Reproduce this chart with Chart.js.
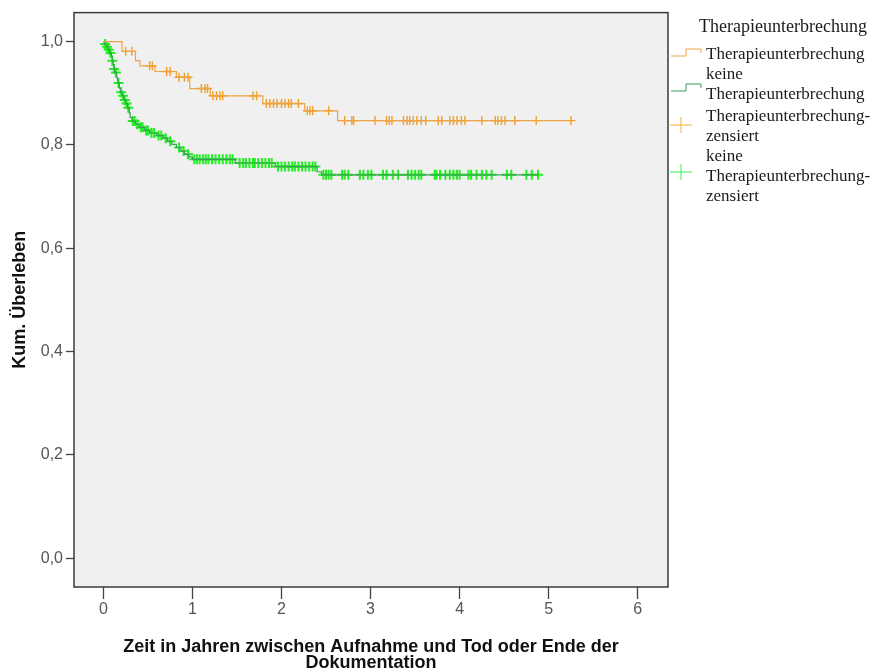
<!DOCTYPE html>
<html>
<head>
<meta charset="utf-8">
<script src="https://cdn.jsdelivr.net/npm/chart.js@4/dist/chart.umd.min.js"></script>
<style>
  html, body { margin: 0; padding: 0; background: #ffffff; }
  canvas { display: block; }
</style>
</head>
<body>
<canvas id="km" width="884" height="671"></canvas>
<script>
// Kaplan-Meier estimate, group "Therapieunterbrechung":
// time of each event (years) and the survival level after it
const breakTimes = [0, 0.21, 0.36, 0.41, 0.58, 0.82, 0.97, 1.20, 1.79, 2.26, 2.63, 5.25];
const breakSurv  = [1.0, 0.981, 0.963, 0.953, 0.942, 0.931, 0.909, 0.895, 0.880, 0.866, 0.847, 0.847];
// censored follow-up times (years)
const breakCensored = [0.25, 0.32, 0.52, 0.55, 0.71, 0.75, 0.85, 0.91, 0.95, 1.10, 1.14, 1.17,
  1.23, 1.27, 1.31, 1.34, 1.68, 1.72, 1.83, 1.87, 1.91, 1.95, 2.00, 2.04, 2.08, 2.11, 2.19,
  2.29, 2.32, 2.35, 2.53, 2.71, 2.79, 2.81, 3.05, 3.18, 3.21, 3.24, 3.37, 3.41, 3.44, 3.48,
  3.52, 3.57, 3.62, 3.76, 3.80, 3.89, 3.93, 3.97, 4.02, 4.06, 4.25, 4.40, 4.43, 4.47, 4.51,
  4.62, 4.86, 5.25];

// group "keine Therapieunterbrechung"
const noBreakTimes = [0, 0.01, 0.03, 0.05, 0.07, 0.09, 0.10, 0.11, 0.12, 0.13, 0.15, 0.16,
  0.18, 0.19, 0.21, 0.23, 0.25, 0.27, 0.29, 0.30, 0.32, 0.36, 0.40, 0.46, 0.52, 0.60, 0.67,
  0.72, 0.77, 0.82, 0.87, 0.91, 0.96, 1.00, 1.48, 1.93, 2.40, 2.45, 4.88];
const noBreakSurv  = [1.0, 0.995, 0.990, 0.984, 0.978, 0.972, 0.963, 0.955, 0.947, 0.940, 0.930, 0.920,
  0.910, 0.902, 0.895, 0.887, 0.880, 0.872, 0.862, 0.853, 0.846, 0.840, 0.834, 0.828, 0.823, 0.818, 0.813,
  0.807, 0.801, 0.795, 0.788, 0.782, 0.777, 0.772, 0.765, 0.758, 0.748, 0.742, 0.742];
const noBreakCensored = [0.02, 0.04, 0.06, 0.08, 0.10, 0.12, 0.14, 0.17, 0.20, 0.22, 0.24, 0.26,
  0.28, 0.33, 0.35, 0.38, 0.42, 0.44, 0.48, 0.50, 0.54, 0.57, 0.62, 0.65, 0.70, 0.75, 0.85, 0.90,
  0.95, 1.02, 1.05, 1.08, 1.12, 1.15, 1.18, 1.22, 1.26, 1.30, 1.34, 1.38, 1.42, 1.45, 1.53, 1.57,
  1.60, 1.64, 1.68, 1.70, 1.74, 1.78, 1.82, 1.86, 1.89, 1.96, 2.00, 2.04, 2.08, 2.12, 2.15, 2.19,
  2.23, 2.27, 2.31, 2.35, 2.38, 2.47, 2.50, 2.53, 2.56, 2.68, 2.71, 2.75, 2.88, 2.92, 2.97, 3.01,
  3.14, 3.18, 3.25, 3.31, 3.42, 3.46, 3.50, 3.54, 3.57, 3.72, 3.74, 3.78, 3.84, 3.89, 3.93, 3.97,
  4.00, 4.10, 4.13, 4.19, 4.25, 4.30, 4.36, 4.53, 4.58, 4.75, 4.81, 4.88];

const xTickValues = [0, 1, 2, 3, 4, 5, 6];
const yTickValues = [0, 0.2, 0.4, 0.6, 0.8, 1.0];

const legendTitle = 'Therapieunterbrechung';
const legendLabels = [
  ['Therapieunterbrechung'],
  ['keine', 'Therapieunterbrechung'],
  ['Therapieunterbrechung-', 'zensiert'],
  ['keine', 'Therapieunterbrechung-', 'zensiert']
];

const ORANGE_LINE = '#EDA446';
const ORANGE_MARK = '#F0A028';
const GREEN_LINE = '#3E9A5C';
const GREEN_MARK = '#22EE22';

// survival level of a step curve at time t
function survivalAt(times, surv, t) {
  let s = surv[0];
  for (let i = 0; i < times.length; i++) {
    if (times[i] <= t) s = surv[i]; else break;
  }
  return s;
}
const stepPoints = (times, surv) => times.map((t, i) => ({ x: t, y: surv[i] }));
const censorPoints = (times, surv, cens) => cens.map(t => ({ x: t, y: survivalAt(times, surv, t) }));

// plot panel background and frame
const panelPlugin = {
  id: 'panel',
  beforeDatasetsDraw(chart) {
    const { ctx, chartArea: a } = chart;
    ctx.save();
    ctx.fillStyle = '#F0F0F0';
    ctx.fillRect(a.left, a.top, a.right - a.left, a.bottom - a.top);
    ctx.restore();
  },
  afterDraw(chart) {
    const { ctx, chartArea: a } = chart;
    ctx.save();
    ctx.strokeStyle = '#3a3a3a';
    ctx.lineWidth = 1.5;
    ctx.strokeRect(a.left, a.top, a.right - a.left, a.bottom - a.top);
    ctx.restore();
  }
};

// group legend at the right of the panel
const legendPlugin = {
  id: 'kmLegend',
  afterDraw(chart) {
    const ctx = chart.ctx;
    const x0 = chart.chartArea.right;
    ctx.save();
    ctx.fillStyle = '#1a1a1a';
    ctx.textBaseline = 'middle';
    ctx.textAlign = 'left';
    ctx.font = '18px "Liberation Serif", "Times New Roman", serif';
    ctx.fillText(legendTitle, x0 + 31, 27);
    ctx.font = '17px "Liberation Serif", "Times New Roman", serif';
    const textX = x0 + 38;
    const lineGap = 20;
    const starts = [55, 75, 117, 157];
    legendLabels.forEach((lines, i) => {
      lines.forEach((s, j) => ctx.fillText(s, textX, starts[i] + j * lineGap));
    });
    // step symbols
    const stepIcon = (yLow, color) => {
      ctx.strokeStyle = color;
      ctx.lineWidth = 1;
      ctx.beginPath();
      ctx.moveTo(x0 + 3, yLow);
      ctx.lineTo(x0 + 18, yLow);
      ctx.lineTo(x0 + 18, yLow - 7);
      ctx.lineTo(x0 + 33, yLow - 7);
      ctx.lineTo(x0 + 33, yLow - 3);
      ctx.stroke();
    };
    stepIcon(56, ORANGE_LINE);
    stepIcon(91, GREEN_LINE);
    // censor symbols
    const crossIcon = (yc, color) => {
      ctx.strokeStyle = color;
      ctx.lineWidth = 1;
      ctx.beginPath();
      ctx.moveTo(x0 + 2, yc);
      ctx.lineTo(x0 + 24, yc);
      ctx.moveTo(x0 + 13, yc - 8);
      ctx.lineTo(x0 + 13, yc + 8);
      ctx.stroke();
    };
    crossIcon(125, '#F2B030');
    crossIcon(172, '#33EE55');
    ctx.restore();
  }
};

const tickFont = { family: '"Liberation Sans", Arial, sans-serif', size: 16 };
const titleFont = { family: '"Liberation Sans", Arial, sans-serif', size: 18, weight: 'bold', lineHeight: 0.88 };

new Chart(document.getElementById('km'), {
  type: 'scatter',
  data: {
    datasets: [
      {
        label: 'Therapieunterbrechung',
        data: stepPoints(breakTimes, breakSurv),
        showLine: true, stepped: 'before',
        borderColor: ORANGE_LINE, borderWidth: 1.2,
        pointRadius: 0, fill: false
      },
      {
        label: 'keine Therapieunterbrechung',
        data: stepPoints(noBreakTimes, noBreakSurv),
        showLine: true, stepped: 'before',
        borderColor: GREEN_LINE, borderWidth: 1.2,
        pointRadius: 0, fill: false
      },
      {
        label: 'Therapieunterbrechung-zensiert',
        data: censorPoints(breakTimes, breakSurv, breakCensored),
        showLine: false,
        pointStyle: 'cross', pointRadius: 4.5, pointBorderWidth: 1.4,
        borderColor: ORANGE_MARK, backgroundColor: ORANGE_MARK
      },
      {
        label: 'keine Therapieunterbrechung-zensiert',
        data: censorPoints(noBreakTimes, noBreakSurv, noBreakCensored),
        showLine: false,
        pointStyle: 'cross', pointRadius: 5, pointBorderWidth: 2,
        borderColor: GREEN_MARK, backgroundColor: GREEN_MARK
      }
    ]
  },
  options: {
    responsive: false,
    animation: false,
    events: [],
    layout: { padding: { left: 0, top: 12, right: 216, bottom: 0 } },
    plugins: {
      legend: { display: false },
      tooltip: { enabled: false }
    },
    scales: {
      x: {
        type: 'linear',
        min: -0.33, max: 6.34,
        afterBuildTicks: s => { s.ticks = xTickValues.map(v => ({ value: v })); },
        afterFit: s => { s.height = 84; },
        ticks: { font: tickFont, color: '#555555', padding: 1, maxRotation: 0,
                 callback: v => String(v) },
        grid: { drawOnChartArea: false, drawTicks: true, tickLength: 12, tickColor: '#444444', tickWidth: 1.3 },
        border: { display: false },
        title: {
          display: true,
          text: ['Zeit in Jahren zwischen Aufnahme und Tod oder Ende der', 'Dokumentation'],
          font: titleFont, color: '#111111', padding: { top: 0, bottom: 0 }
        }
      },
      y: {
        type: 'linear',
        min: -0.0555, max: 1.056,
        afterBuildTicks: s => { s.ticks = yTickValues.map(v => ({ value: v })); },
        afterFit: s => { s.width = 74; },
        ticks: { font: tickFont, color: '#555555', padding: 3,
                 callback: v => v.toFixed(1).replace('.', ',') },
        grid: { drawOnChartArea: false, drawTicks: true, tickLength: 8, tickColor: '#444444', tickWidth: 1.3 },
        border: { display: false },
        title: {
          display: true,
          text: 'Kum. Überleben',
          font: titleFont, color: '#111111', padding: { top: 12.5, bottom: 0 }
        }
      }
    }
  },
  plugins: [panelPlugin, legendPlugin]
});
</script>
</body>
</html>
